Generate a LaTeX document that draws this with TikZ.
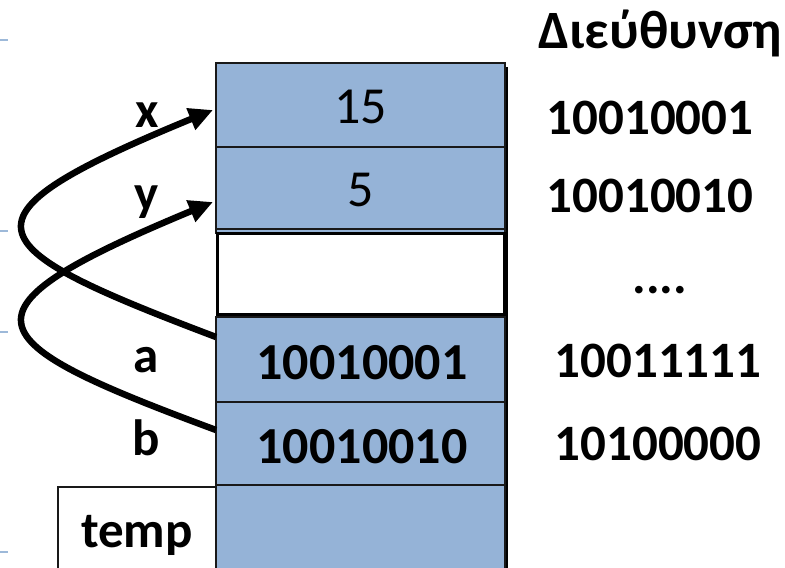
\documentclass[tikz,border=0pt]{standalone}
\usepackage{fontspec}
\setmainfont{Carlito}
\usetikzlibrary{arrows.meta}
\definecolor{cellblue}{HTML}{95B3D7}
\definecolor{tickblue}{HTML}{9DB9D9}
\tikzset{
  cell/.style={draw=black!90, line width=2bp, fill=cellblue, minimum width=289bp,
    inner sep=0pt, outer sep=0pt},
  blankcell/.style={draw=black, line width=3bp, fill=white, minimum width=287bp,
    inner sep=0pt, outer sep=0pt},
  lbl/.style={anchor=base, font=\fontsize{51bp}{60bp}\selectfont\bfseries, inner sep=0pt},
  val/.style={font=\fontsize{52bp}{60bp}\selectfont, inner sep=0pt},
  addr/.style={anchor=base, font=\fontsize{51bp}{60bp}\selectfont\bfseries, inner sep=0pt},
  ptr/.style={line width=6.5bp, -{Triangle[length=24bp,width=22bp]}},
  tick/.style={tickblue, line width=2bp}
}
\begin{document}
\begin{tikzpicture}[x=1bp, y=-1bp]
\useasboundingbox (0,0) rectangle (785,568);
\clip (0,0) rectangle (785,568);

% margin ticks
\draw[tick] (0,40) -- (8,40);
\draw[tick] (0,231) -- (8,231);
\draw[tick] (0,332) -- (8,332);
\draw[tick] (0,552) -- (8,552);

% memory column shadow on the right
\draw[black, line width=3bp] (506.5,67) -- (506.5,570);

% memory cells
\node[cell, minimum height=84bp] (bx) at (360.5,105) {};
\node[cell, minimum height=86bp] (by) at (360.5,190) {};
\draw[black!90, line width=1.5bp] (by.west |- 0,229) -- (by.east |- 0,229);
\node[blankcell, minimum height=80bp] (bw) at (360.5,274) {};
\node[cell, minimum height=85bp] (ba) at (360.5,359.5) {};
\node[cell, minimum height=83bp] (bb) at (360.5,443.5) {};
\node[cell, minimum height=90bp] (bt) at (360.5,530) {};
\node[draw=black!90, line width=2bp, fill=white, minimum width=158bp, minimum height=88bp,
  inner sep=0pt, outer sep=0pt] (tbox) at (137,531) {};

% cell contents
\node[val] (vx) at (360.5,107) {15};
\node[val] (vy) at (360.5,190) {5};
\node[val, font=\fontsize{52bp}{60bp}\selectfont\bfseries] (va) at (362,363) {10010001};
\node[val, font=\fontsize{52bp}{60bp}\selectfont\bfseries] (vb) at (362,447) {10010010};

% variable names
\node[lbl] (nx) at (147,128) {x};
\node[lbl] (ny) at (147,211) {y};
\node[lbl] (na) at (146,372) {a};
\node[lbl] (nb) at (146,455) {b};
\node[lbl] (nt) at (137,547) {temp};

% addresses
\node[addr, font=\fontsize{54bp}{60bp}\selectfont\bfseries] (hd) at (660,49) {Διεύθυνση};
\node[addr] (ax) at (650,135) {10010001};
\node[addr] (ay) at (650,213) {10010010};
\node[addr] (ad) at (660,293) {....};
\node[addr] (aa) at (658,377) {10011111};
\node[addr] (ab) at (658,460) {10100000};

% pointers
\draw[ptr] ([shift={(0,-22.5)}]ba.west) .. controls (-27,245) and (-52,219) .. ([shift={(-3,5)}]bx.west);
\draw[ptr] ([shift={(0,-13.5)}]bb.west) .. controls (-27,340) and (-52,312) .. ([shift={(-3,12)}]by.west);
\end{tikzpicture}
\end{document}
